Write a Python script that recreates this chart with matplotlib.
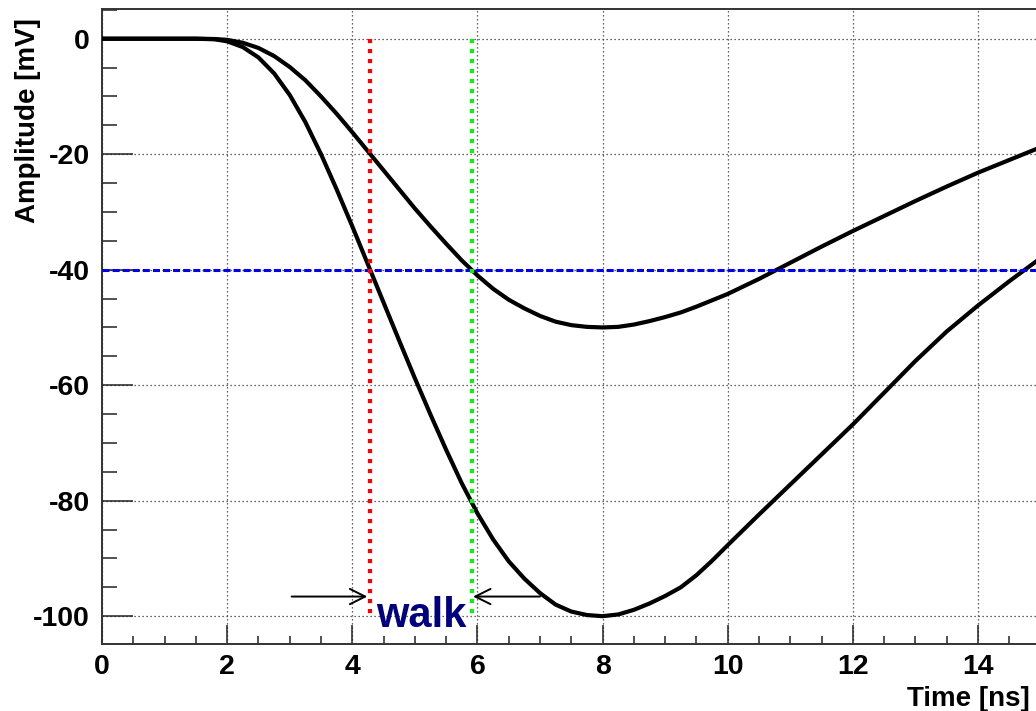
import numpy as np
import matplotlib
matplotlib.use("Agg")
import matplotlib.pyplot as plt
from matplotlib.ticker import MultipleLocator

plt.rcParams['font.family'] = ['Liberation Sans', 'DejaVu Sans']
plt.rcParams['font.weight'] = 'bold'
plt.rcParams['axes.unicode_minus'] = False

# time axis [ns]
t = [0.0, 0.5, 1.0, 1.5, 1.8, 2.0, 2.25, 2.5, 2.75, 3.0, 3.25, 3.5, 3.75,
     4.0, 4.25, 4.5, 4.75, 5.0, 5.25, 5.5, 5.75, 6.0, 6.25, 6.5, 6.75,
     7.0, 7.25, 7.5, 7.75, 8.0, 8.25, 8.5, 8.75, 9.0, 9.25, 9.5, 9.75,
     10.0, 10.5, 11.0, 11.5, 12.0, 12.5, 13.0, 13.5, 14.0, 14.5, 15.0]

# large pulse [mV]
big = [0.0, 0.0, 0.0, 0.0, -0.1, -0.45, -1.45, -3.25, -6.0, -9.75, -14.45, -20.0, -26.1,
       -32.5, -39.1, -45.7, -52.3, -58.8, -65.1, -71.2, -77.0, -82.2, -86.7, -90.5, -93.5,
       -96.0, -98.0, -99.2, -99.8, -100.0, -99.7, -98.9, -97.8, -96.5, -95.0, -92.9, -90.4,
       -87.7, -82.4, -77.2, -72.0, -66.8, -61.3, -55.8, -50.7, -46.2, -42.0, -38.0]

# small pulse [mV]
small = [0.0, 0.0, 0.0, 0.0, -0.05, -0.2, -0.7, -1.6, -3.0, -4.9, -7.2, -10.0, -13.0,
         -16.2, -19.5, -22.8, -26.1, -29.4, -32.5, -35.5, -38.4, -41.0, -43.3, -45.2, -46.7,
         -48.0, -49.0, -49.6, -49.9, -50.0, -49.9, -49.5, -48.9, -48.2, -47.4, -46.4, -45.3,
         -44.2, -41.6, -38.8, -36.0, -33.3, -30.7, -28.1, -25.6, -23.2, -21.0, -18.8]

threshold = -40.0
t_big = 4.29     # threshold crossing of the large pulse
t_small = 5.91   # threshold crossing of the small pulse

fig = plt.figure(figsize=(10.36, 7.11), dpi=100)
ax = fig.add_axes([0.0985, 0.0938, 0.9059, 0.8935])

ax.plot(t, big, color='black', lw=3, zorder=3, solid_joinstyle='round')
ax.plot(t, small, color='black', lw=3, zorder=3, solid_joinstyle='round')

ax.axhline(threshold, color='#0000ee', lw=2.2, ls=(0, (2.3, 1.0)), zorder=4)
ax.plot([t_big, t_big], [0, -100], color='#ff0000', lw=3, ls=(0, (1, 1.4)), zorder=4)
ax.plot([t_small, t_small], [0, -100], color='#11ee11', lw=3, ls=(0, (1, 1.4)), zorder=4)

# walk arrows
arr = dict(arrowstyle='->,head_length=1.1,head_width=0.55', lw=1.4, color='black',
           shrinkA=0, shrinkB=0, mutation_scale=10)
ax.annotate('', xy=(4.24, -96.6), xytext=(3.03, -96.6), arrowprops=arr, zorder=5)
ax.annotate('', xy=(5.93, -96.6), xytext=(7.0, -96.6), arrowprops=arr, zorder=5)
ax.text(5.095, -101.8, 'walk', color='#000080', fontsize=30, fontweight='bold',
        ha='center', va='baseline', zorder=6)

ax.set_xlim(0, 15)
ax.set_ylim(-104.87, 5.14)

ax.xaxis.set_major_locator(MultipleLocator(2))
ax.xaxis.set_minor_locator(MultipleLocator(0.5))
ax.yaxis.set_major_locator(MultipleLocator(20))
ax.yaxis.set_minor_locator(MultipleLocator(5))

ax.tick_params(axis='both', which='both', direction='in', colors='#222222',
               labelsize=20.5, labelcolor='black')
ax.tick_params(axis='y', which='major', length=22.5, width=1.1, pad=9)
ax.tick_params(axis='y', which='minor', length=10.8, width=1.1)
ax.tick_params(axis='x', which='major', length=13.4, width=1.1, pad=7)
ax.tick_params(axis='x', which='minor', length=6, width=1.1)
ax.tick_params(top=False, right=False, which='both')

ax.grid(True, which='major', color='#333333', lw=0.9, ls=(0, (1, 2.2)))
ax.set_axisbelow(True)

for side in ['left', 'bottom', 'top', 'right']:
    ax.spines[side].set_color('#333333')
    ax.spines[side].set_linewidth(1.4)

fig.text(28 / 1036, 1 - 18 / 711, 'Amplitude [mV]', rotation=90, ha='center', va='top',
         fontsize=20, fontweight='bold')
fig.text(1030 / 1036, 5.5 / 711, 'Time [ns]', ha='right', va='baseline',
         fontsize=20, fontweight='bold')

fig.savefig('out.png', dpi=100)
